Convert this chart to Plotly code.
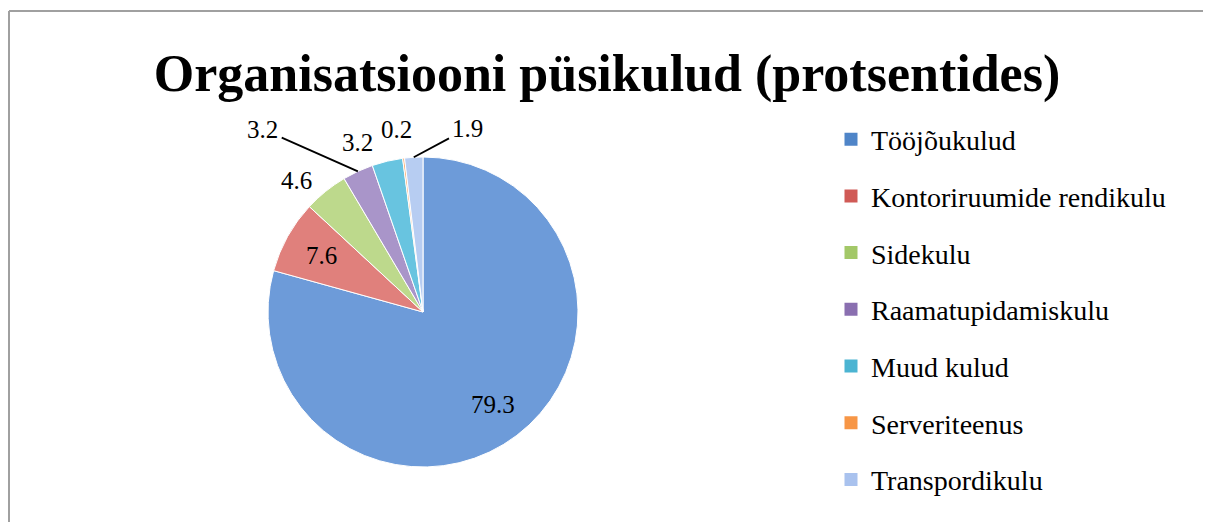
import math
import plotly.graph_objects as go

categories = ["Tööjõukulud", "Kontoriruumide rendikulu", "Sidekulu",
              "Raamatupidamiskulu", "Muud kulud", "Serveriteenus", "Transpordikulu"]
values = [79.3, 7.6, 4.6, 3.2, 3.2, 0.2, 1.9]
colors = ["#6d9bd9", "#e0807c", "#bdd98c", "#a995c9", "#68c4e0", "#f9a868", "#b7cdf2"]
legend_colors = ["#4f85c8", "#d05a56", "#a3c868", "#8a6fb0", "#4bb4d2", "#f79646", "#a9c2ee"]
title_text = "Organisatsiooni püsikulud (protsentides)"

# label placement styling: inside (fraction of radius) or outside (pixel offset from slice edge)
label_inside = [True, True, False, False, False, False, False]
label_offsets = [(0, 0), (0, 0), (-29, -11), (-95, -42), (-30, -19), (-7, -29), (54, -29)]
label_lines = [False, False, False, True, False, False, True]

W, H = 1211, 522
OFF = 8  # page body margin
cx, cy, r = 423, 312, 155


def to_paper(x, y):
    return (x - OFF) / W, 1 - (y - OFF) / H


x0p, y0p = to_paper(cx - r, cy + r)
x1p, y1p = to_paper(cx + r, cy - r)

fig = go.Figure()
fig.add_trace(go.Pie(
    labels=categories, values=values, sort=False, direction="clockwise", rotation=0,
    marker=dict(colors=colors, line=dict(color="white", width=1)),
    textinfo="none", showlegend=False, automargin=False,
    domain=dict(x=[x0p, x1p], y=[y0p, y1p]),
    hoverinfo="label+value",
))
for lab, col in zip(categories, legend_colors):
    fig.add_trace(go.Scatter(x=[None], y=[None], mode="markers", name=lab, legendgroup=lab,
                             marker=dict(symbol="square", size=13, color=col), showlegend=True))

# data labels computed from the slice angles
total = sum(values)
annotations = []
cum = 0.0
for v, inside, (dx, dy), line in zip(values, label_inside, label_offsets, label_lines):
    mid = math.radians((cum + v / 2) / total * 360)
    cum += v
    rad = r * 0.75 if inside else r
    px_ = cx + rad * math.sin(mid)
    py_ = cy - rad * math.cos(mid)
    font = dict(family="Liberation Serif", size=25, color="black")
    if line:
        xp, yp = to_paper(px_, py_)
        annotations.append(dict(x=xp, y=yp, xref="paper", yref="paper", text=f"{v:.1f}",
                                showarrow=True, ax=dx, ay=dy, axref="pixel", ayref="pixel",
                                arrowhead=0, arrowwidth=1.8, arrowcolor="black",
                                standoff=0, startstandoff=2, font=font))
    else:
        xp, yp = to_paper(px_ + dx, py_ + dy)
        annotations.append(dict(x=xp, y=yp, xref="paper", yref="paper", text=f"{v:.1f}",
                                showarrow=False, xanchor="center", yanchor="middle", font=font))

fig.update_layout(
    width=W, height=H, margin=dict(l=0, r=0, t=0, b=0),
    paper_bgcolor="white", plot_bgcolor="white",
    xaxis=dict(visible=False), yaxis=dict(visible=False),
    title=dict(text=title_text, x=(607 - OFF) / W, xanchor="center", y=1 - (73 - OFF) / H,
               yanchor="middle",
               font=dict(family="Liberation Serif", size=52, color="black", weight="bold")),
    legend=dict(x=823 / W, xanchor="left", y=1 - 106.5 / H, yanchor="top",
                font=dict(family="Liberation Serif", size=28, color="black"),
                tracegroupgap=17.3, itemwidth=30, bgcolor="rgba(0,0,0,0)"),
    annotations=annotations,
    shapes=[
        dict(type="line", xref="paper", yref="paper", x0=1 / W, x1=1, y0=1 - 3 / H, y1=1 - 3 / H,
             line=dict(color="#a0a0a0", width=2)),
        dict(type="line", xref="paper", yref="paper", x0=1 / W, x1=1 / W, y0=0, y1=1 - 3 / H,
             line=dict(color="#a0a0a0", width=2)),
    ],
)
fig.write_html("out.html")
